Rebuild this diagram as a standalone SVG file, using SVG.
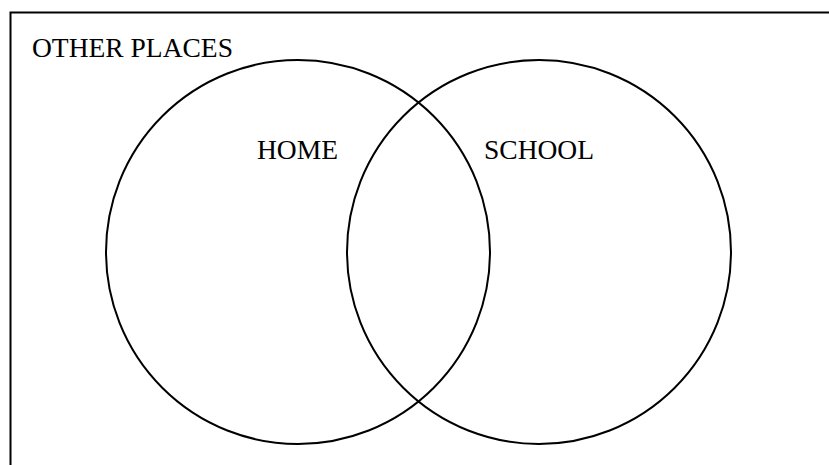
<svg xmlns="http://www.w3.org/2000/svg" width="829" height="465" viewBox="0 0 829 465">
<style>
.ln{fill:none;stroke:#000;stroke-width:2}
.t{font-family:"Liberation Serif","Times New Roman",serif;font-size:27.5px;fill:#000}
</style>
<rect width="829" height="465" fill="#fff"/>
<g id="other-places">
<path class="ln" d="M10.5,465 V12.5 H829"/>
<text class="t" x="32" y="57">OTHER PLACES</text>
</g>
<g id="home">
<circle class="ln" cx="298" cy="252" r="192"/>
<text class="t" x="257" y="159">HOME</text>
</g>
<g id="school">
<circle class="ln" cx="539" cy="252" r="192"/>
<text class="t" x="484" y="159">SCHOOL</text>
</g>
</svg>
